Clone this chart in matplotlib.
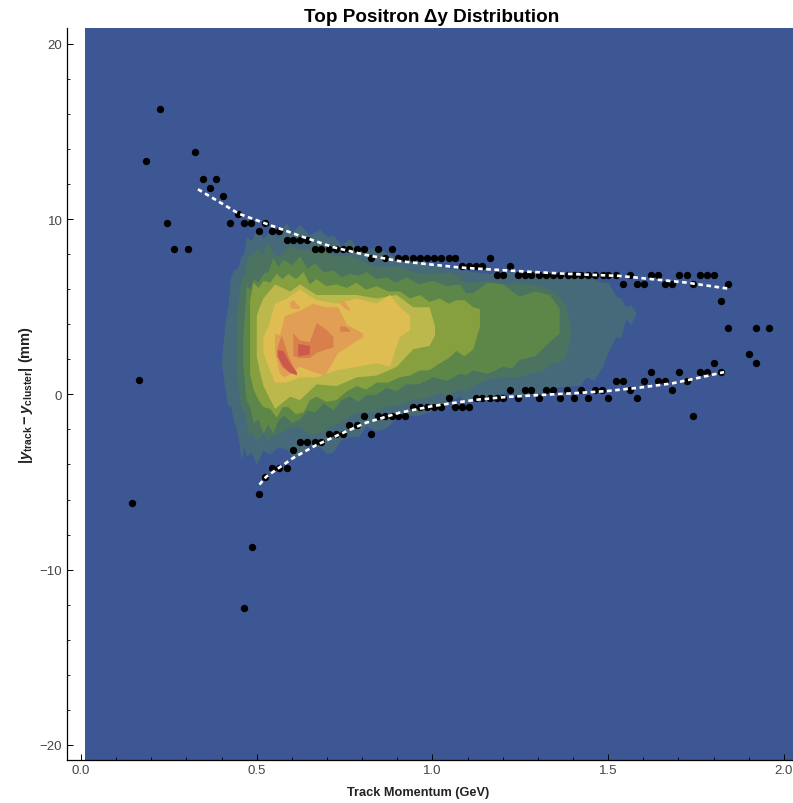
import matplotlib
matplotlib.use("Agg")
import matplotlib.pyplot as plt
from matplotlib.ticker import MultipleLocator
import numpy as np

plt.rcParams['font.family'] = ['Liberation Sans', 'DejaVu Sans']
plt.rcParams['mathtext.fontset'] = 'custom'
plt.rcParams['mathtext.rm'] = 'Liberation Sans:bold'
plt.rcParams['mathtext.it'] = 'Liberation Sans:bold:italic'
plt.rcParams['mathtext.bf'] = 'Liberation Sans:bold'

BG = '#3c5793'
COL = ['#466a7a', '#4b7360', '#5d8748', '#86a040', '#bcb84c', '#e0bd52', '#e19f55', '#d97f4c', '#cc5a4c']

# density bands: (x, upper y, lower y), lowest level first
b1x = [.40,.41,.418,.425,.433,.445,.456,.463,.47,.485,.499,.518,.537,.56,.584,.60,.622,.65,.679,.70,.717,.74,.764,.79,.811,.84,.868,.895,.925,.96,1.0,1.04,1.077,1.095,1.115,1.16,1.21,1.26,1.304,1.35,1.40,1.42,1.437,1.46,1.484,1.50,1.522,1.535,1.55,1.565,1.579]
b1u = [1.9,4.1,5.0,6.6,7.1,7.2,7.9,8.0,9.0,8.8,9.4,8.9,9.3,9.0,9.8,9.2,9.7,9.1,9.4,9.0,9.1,8.5,8.9,8.3,8.3,8.4,8.1,7.8,7.5,7.6,7.4,7.2,7.1,7.1,7.0,6.9,7.0,6.9,6.9,6.8,6.8,6.7,6.7,6.6,6.4,6.4,5.6,5.5,5.0,5.1,4.7]
b1l = [1.7,.3,-.7,-.6,-1.4,-2.2,-3.7,-3.0,-3.5,-3.3,-4.0,-3.2,-3.4,-3.0,-3.1,-3.6,-3.5,-2.9,-3.0,-3.4,-3.3,-2.6,-2.4,-2.4,-1.8,-2.1,-1.9,-1.4,-1.2,-1.2,-.9,-.5,-.1,-.5,-.3,-.1,.1,-.1,.1,.4,.5,.5,1.0,.8,1.6,2.4,3.3,3.2,4.3,4.0,4.6]

b2x = [.442,.449,.456,.465,.475,.487,.499,.515,.532,.548,.565,.595,.622,.65,.679,.708,.736,.765,.793,.83,.868,.905,.944,.98,1.02,1.05,1.077,1.095,1.115,1.16,1.21,1.245,1.276,1.31,1.342,1.36,1.38,1.394]
b2u = [4.3,5.6,6.6,6.9,7.9,8.0,8.4,8.0,8.7,8.0,7.9,8.5,8.3,8.3,8.7,8.0,7.9,7.9,7.7,7.3,7.3,7.3,7.0,6.9,6.9,7.0,6.7,6.4,6.4,6.5,6.3,6.4,6.3,6.2,5.9,5.6,5.0,3.7]
b2l = [1.4,.0,-.9,-1.0,-2.2,-2.2,-2.7,-2.2,-2.6,-2.3,-2.2,-1.9,-1.8,-2.3,-2.2,-1.8,-1.6,-1.2,-1.0,-1.0,-.7,-.6,-.3,-.2,.1,.0,.3,.2,.5,.9,1.0,1.0,1.2,1.3,1.8,1.8,2.2,3.5]

b3x = [.461,.47,.48,.49,.504,.518,.532,.546,.56,.575,.6,.622,.643,.665,.69,.717,.74,.764,.788,.811,.84,.868,.896,.925,.96,1.0,1.04,1.077,1.095,1.115,1.155,1.2,1.225,1.247,1.29,1.332,1.361]
b3u = [3.3,6.2,6.0,6.6,6.4,6.9,7.0,7.8,7.3,7.7,7.4,7.9,7.2,7.5,7.0,7.1,6.7,6.9,6.8,7.0,6.6,6.7,6.4,6.7,6.3,6.5,6.2,6.3,5.8,5.8,6.4,6.3,5.9,5.6,5.9,5.7,4.9]
b3l = [1.6,-.3,-.7,-1.6,-1.4,-2.2,-1.7,-2.2,-1.5,-1.2,-1.6,-1.4,-.9,-1.0,-.5,-.9,-.3,-.1,-.4,.0,.0,.4,.2,.6,.6,1.0,.8,1.2,1.1,1.4,1.2,1.6,1.5,2.0,2.2,3.0,3.5]

b4x = [.48,.49,.504,.518,.537,.556,.572,.589,.61,.632,.65,.669,.697,.726,.755,.783,.81,.84,.873,.906,.935,.963,.99,1.02,1.045,1.067,1.09,1.115,1.134]
b4u = [5.4,6.4,6.1,6.5,6.4,6.9,6.6,6.9,6.6,7.0,6.3,6.6,6.2,6.3,6.1,6.4,6.0,6.2,5.9,5.9,5.5,5.7,5.3,5.5,5.2,5.4,5.4,5.0,4.9]
b4l = [1.2,.3,-.3,-.7,-.8,-1.3,-.7,-.7,-1.1,-1.0,-.3,-.1,-.4,-.3,.2,.5,.3,.7,.7,1.0,1.1,1.4,1.4,1.8,2.1,2.5,2.2,2.6,3.9]

b5x = [.499,.507,.518,.551,.594,.622,.669,.726,.783,.84,.897,.944,.991,1.006]
b5u = [4.5,5.0,5.5,6.3,5.9,6.3,5.7,5.7,5.7,5.5,5.7,5.0,5.0,3.9]
b5l = [2.2,1.4,.5,-.8,-.1,-.3,.6,.5,1.0,1.1,1.6,2.6,2.8,3.4]

b6x = [.518,.532,.551,.584,.622,.669,.726,.783,.84,.878,.906,.935]
b6u = [3.3,3.9,5.2,5.5,6.0,5.4,5.2,5.5,5.2,5.7,5.0,4.5]
b6l = [2.4,1.6,.7,.7,1.0,1.0,1.4,1.6,1.8,1.6,3.3,3.7]

b7x = [.551,.565,.579,.622,.660,.693,.731,.755,.802]
b7u = [3.5,3.4,4.5,4.8,5.2,5.0,5.0,4.0,3.5]
b7l = [2.4,1.2,1.0,1.6,1.3,1.1,2.4,2.7,3.3]

b7bx = [.594,.604,.622]
b7bu = [5.3,5.4,5.0]
b7bl = [5.0,4.9,4.9]

b7cx = [.736,.75,.764]
b7cu = [5.4,5.3,4.9]
b7cl = [5.2,4.9,4.8]

b8ax = [.558,.57,.589,.613]
b8au = [2.67,3.4,2.2,1.2]
b8al = [2.2,1.6,1.3,1.1]

b8bx = [.603,.622,.65,.669,.698,.717]
b8bu = [3.5,3.1,3.0,4.1,3.7,3.3]
b8bl = [2.2,2.1,2.1,2.4,2.6,2.7]

b8cx = [.736,.75,.764]
b8cu = [3.9,3.9,3.7]
b8cl = [3.6,3.6,3.6]

b9ax = [.558,.575,.594,.613]
b9au = [2.55,2.5,1.8,1.3]
b9al = [2.2,1.6,1.25,1.15]

b9bx = [.617,.65]
b9bu = [2.9,2.8]
b9bl = [2.2,2.3]

BANDS = [(b1x,b1u,b1l,0),(b2x,b2u,b2l,1),(b3x,b3u,b3l,2),(b4x,b4u,b4l,3),(b5x,b5u,b5l,4),
         (b6x,b6u,b6l,5),(b7x,b7u,b7l,6),(b7bx,b7bu,b7bl,6),(b7cx,b7cu,b7cl,6),
         (b8ax,b8au,b8al,7),(b8bx,b8bu,b8bl,7),(b8cx,b8cu,b8cl,7),(b9ax,b9au,b9al,8),(b9bx,b9bu,b9bl,8)]

# extracted points
top_x = [.425,.464,.485,.507,.525,.544,.565,.586,.603,.624,.643,.667,.684,.705,.726,.745,.764,.785,.805,.826,.844,.864,.884,.903,.923,.944,.965,.984,1.004,1.025,1.046,1.063,1.083,1.105,1.124,1.142,1.163,1.183,1.202,1.222,1.243,1.264,1.281,1.302,1.323,1.344,1.363,1.385,1.404,1.424,1.443,1.462,1.484,1.501,1.522,1.543,1.563,1.581,1.601,1.623,1.643,1.661,1.681,1.703,1.723,1.742,1.762,1.782,1.800,1.821,1.841]
top_y = [9.8,9.8,9.8,9.3,9.8,9.3,9.3,8.8,8.8,8.8,8.8,8.3,8.3,8.3,8.3,8.3,8.3,8.3,8.3,7.8,8.3,7.8,8.3,7.8,7.8,7.8,7.8,7.8,7.8,7.8,7.8,7.8,7.3,7.3,7.3,7.3,7.8,6.8,6.8,7.3,6.8,6.8,6.8,6.8,6.8,6.8,6.8,6.8,6.8,6.8,6.8,6.8,6.8,6.8,6.8,6.27,6.8,6.27,6.27,6.8,6.8,6.27,6.27,6.8,6.8,6.27,6.8,6.8,6.8,5.3,6.27]
bot_x = [.525,.544,.565,.586,.603,.624,.644,.667,.684,.705,.726,.745,.764,.785,.805,.826,.844,.864,.884,.903,.923,.944,.965,.984,1.004,1.025,1.046,1.063,1.083,1.104,1.124,1.142,1.163,1.183,1.202,1.222,1.243,1.264,1.281,1.302,1.323,1.344,1.363,1.382,1.404,1.424,1.443,1.462,1.482,1.501,1.522,1.543,1.563,1.581,1.601,1.622,1.643,1.661,1.681,1.703,1.723,1.741,1.762,1.782,1.800,1.821]
bot_y = [-4.7,-4.2,-4.2,-4.2,-3.2,-2.73,-2.73,-2.73,-2.73,-2.25,-2.25,-2.25,-1.72,-1.72,-1.24,-2.25,-1.24,-1.24,-1.24,-1.24,-1.24,-.7,-.7,-.7,-.7,-.7,-.23,-.7,-.7,-.7,-.23,-.23,-.23,-.23,-.23,.25,-.23,.25,.25,-.23,.25,.25,-.23,.25,-.23,.25,-.23,.25,.25,-.23,.78,.78,.25,-.23,.78,1.26,.78,.78,.25,1.26,.78,-1.24,1.26,1.26,1.8,1.26]
out_x = [.145,.165,.186,.224,.245,.265,.304,.325,.346,.366,.384,.404,.446,.463,.486,.506,1.841,1.901,1.922,1.922,1.959]
out_y = [-6.2,.8,13.3,16.3,9.8,8.3,8.3,13.8,12.3,11.8,12.3,11.3,10.3,-12.2,-8.7,-5.7,3.77,2.28,1.8,3.77,3.77]

# fitted edges
fit_top_x = [.333,.40,.45,.525,.622,.717,.811,.906,1.0,1.077,1.153,1.271,1.399,1.531,1.626,1.721,1.839]
fit_top_y = [11.7,10.9,10.3,9.75,9.05,8.4,7.95,7.6,7.4,7.24,7.14,7.0,6.86,6.76,6.57,6.38,6.04]
fit_bot_x = [.508,.527,.603,.669,.745,.811,.906,1.0,1.077,1.124,1.209,1.304,1.399,1.498,1.588,1.683,1.759,1.83]
fit_bot_y = [-5.15,-4.7,-3.64,-2.9,-2.2,-1.62,-1.05,-.67,-.44,-.31,-.15,-.04,.06,.19,.38,.63,.95,1.27]

W, H = 793, 804
fig = plt.figure(figsize=(W/100, H/100), dpi=100)
ax = fig.add_axes([66.5/W, (H-760.5)/H, (W-66.5)/W, (760.5-29)/H])
ax.set_xlim(-0.041, 2.026)
ax.set_ylim(-20.83, 20.9)

ax.axvspan(0.011, 2.026, color=BG, lw=0, zorder=0)
for bx, bu, bl, c in BANDS:
    ax.fill_between(bx, bl, bu, color=COL[c], lw=0, zorder=1 + c * 0.1)

ax.scatter(top_x + bot_x + out_x, top_y + bot_y + out_y, s=28, c='black', lw=0, zorder=3)
for fx, fy in ((fit_top_x, fit_top_y), (fit_bot_x, fit_bot_y)):
    ax.plot(fx, fy, color='white', lw=1.9, dashes=(1.75, 1.35), dash_capstyle='butt', zorder=4)

for s in ('top', 'right'):
    ax.spines[s].set_visible(False)
for s in ('left', 'bottom'):
    ax.spines[s].set_linewidth(0.9)
ax.xaxis.set_minor_locator(MultipleLocator(0.1))
ax.yaxis.set_minor_locator(MultipleLocator(2))
ax.tick_params(which='major', direction='in', length=4.5, width=0.7, labelsize=9.5, labelcolor='#444444')
ax.tick_params(axis='y', which='major', pad=3)
ax.tick_params(which='minor', direction='in', length=2.5, width=0.6)
ax.set_xticks([0, .5, 1, 1.5, 2], ['0.0', '0.5', '1.0', '1.5', '2.0'])
ax.set_yticks([-20, -10, 0, 10, 20], ['\u221220', '\u221210', '0', '10', '20'])

fig.text(432/W, 1 - 18/H, 'Top Positron \u0394y Distribution', ha='center', va='center',
         fontsize=13.6, fontweight='bold')
fig.text(418/W, 1 - 793/H, 'Track Momentum (GeV)', ha='center', va='center',
         fontsize=9.2, fontweight='bold', color='#222222')
fig.text(26/W, 1 - 395/H, r'$|y_{\mathrm{track}}-y_{\mathrm{cluster}}|$ (mm)', rotation=90,
         ha='center', va='center', fontsize=10.5, fontweight='bold', color='#222222')

fig.savefig('out.png', dpi=100)
